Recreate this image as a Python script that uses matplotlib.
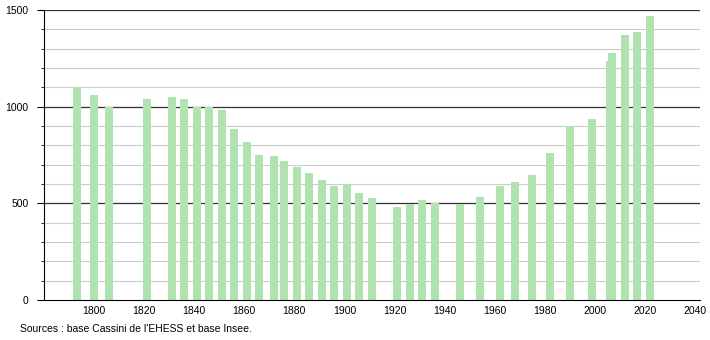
import matplotlib
matplotlib.use("Agg")
import matplotlib.pyplot as plt
import numpy as np

plt.rcParams['font.family'] = ['Liberation Sans', 'DejaVu Sans']

annees = [1793, 1800, 1806, 1821, 1831, 1836, 1841, 1846, 1851, 1856,
          1861, 1866, 1872, 1876, 1881, 1886, 1891, 1896, 1901, 1906,
          1911, 1921, 1926, 1931, 1936, 1946, 1954, 1962, 1968, 1975,
          1982, 1990, 1999, 2006, 2007, 2012, 2017, 2022]
population = [1100, 1060, 998, 1038, 1052, 1038, 998, 998, 983, 883,
              816, 748, 745, 719, 690, 655, 621, 591, 600, 553,
              528, 483, 495, 519, 500, 497, 534, 590, 612, 647,
              758, 898, 936, 1236, 1276, 1371, 1384, 1469]
xticks = [1800, 1820, 1840, 1860, 1880, 1900, 1920, 1940, 1960, 1980, 2000, 2020, 2040]

fig = plt.figure(figsize=(7.1, 3.4), dpi=100)
ax = fig.add_axes([44/710, 40/340, 656/710, 290/340])

# grille : mineure tous les 100, majeure tous les 500
for y in range(100, 1500, 100):
    if y % 500:
        ax.axhline(y, color='#cccccc', lw=0.8, zorder=1)
for y in [500, 1000, 1500]:
    ax.axhline(y, color='#333333', lw=0.9, zorder=1)

ax.bar(annees, population, width=3.2, color='#b0e3b0', zorder=2)

ax.set_xlim(1780, 2042)
ax.set_ylim(0, 1500)
ax.set_xticks(xticks)
ax.set_yticks([0, 500, 1000, 1500])
ax.set_yticks(np.arange(0, 1501, 100), minor=True)
ax.tick_params(axis='x', length=0, labelsize=7.5, pad=4)
ax.tick_params(axis='y', which='major', length=5, labelsize=7.5, pad=6)
ax.tick_params(axis='y', which='minor', length=2.5)
for s in ['top', 'right']:
    ax.spines[s].set_visible(False)

fig.text(20/710, 1 - 329/340, "Sources : base Cassini de l'EHESS et base Insee.",
         fontsize=7.5, va='center', ha='left')

fig.savefig('out.png', dpi=100)
